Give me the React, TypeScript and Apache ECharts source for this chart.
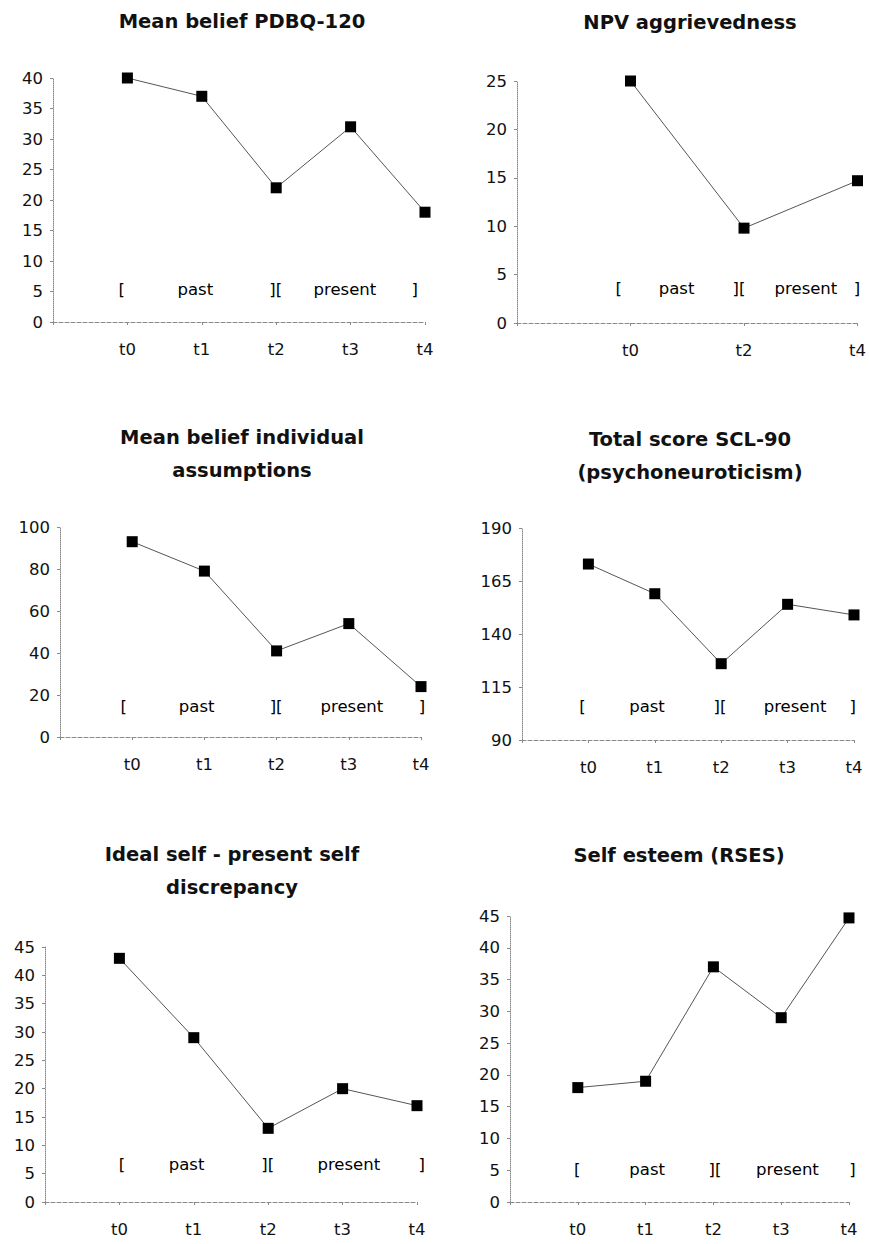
import React, { useEffect, useRef } from 'react';
import * as echarts from 'echarts';

// ---- data ----
const categories = ['t0', 't1', 't2', 't3', 't4'];
const npvCategories = ['t0', 't2', 't4'];

const pdbqValues = [40, 37, 22, 32, 18];
const npvValues = [25, 9.8, 14.7];
const assumptionValues = [93, 79, 41, 54, 24];
const sclValues = [173, 159, 126, 154, 149];
const discrepancyValues = [43, 29, 13, 20, 17];
const rsesValues = [18, 19, 37, 29, 44.7];

const noteLabels = ['[', 'past', '][', 'present', ']'];
// annotation x positions (in category index units) and y value per panel
const pdbqNotesX = [-0.07, 0.92, 2.0, 2.93, 3.87];
const pdbqNoteY = 5.2;
const npvNotesX = [-0.1, 0.41, 0.96, 1.55, 2.0];
const npvNoteY = 3.5;
const assumptionNotesX = [-0.11, 0.9, 2.0, 3.05, 4.02];
const assumptionNoteY = 14.3;
const sclNotesX = [-0.08, 0.89, 1.99, 3.12, 3.99];
const sclNoteY = 105.6;
const discrepancyNotesX = [0.04, 0.91, 2.0, 3.09, 4.07];
const discrepancyNoteY = 6.5;
const rsesNotesX = [0.0, 1.03, 2.03, 3.1, 4.06];
const rsesNoteY = 5.0;

const titles = [
  'Mean belief PDBQ-120',
  'NPV aggrievedness',
  'Mean belief individual\nassumptions',
  'Total score SCL-90\n(psychoneuroticism)',
  'Ideal self - present self\ndiscrepancy',
  'Self esteem (RSES)',
];

const yRanges = [
  [0, 40, 5],
  [0, 25, 5],
  [0, 100, 20],
  [90, 190, 25],
  [0, 45, 5],
  [0, 45, 5],
];

const FONT = 'DejaVu Sans';

export default function App() {
  const ref = useRef<HTMLDivElement>(null);

  useEffect(() => {
    if (!ref.current) return;
    const chart = echarts.init(ref.current, null, { renderer: 'svg' });

    const panels = [
      { cats: categories, values: pdbqValues, notesX: pdbqNotesX, noteY: pdbqNoteY,
        grid: { left: 53, top: 78, width: 372, height: 244 }, tx: 242, ty: 21 },
      { cats: npvCategories, values: npvValues, notesX: npvNotesX, noteY: npvNoteY,
        grid: { left: 517, top: 81, width: 344, height: 242 }, tx: 690, ty: 22 },
      { cats: categories, values: assumptionValues, notesX: assumptionNotesX, noteY: assumptionNoteY,
        grid: { left: 60, top: 527, width: 361, height: 210 }, tx: 242, ty: 454 },
      { cats: categories, values: sclValues, notesX: sclNotesX, noteY: sclNoteY,
        grid: { left: 522, top: 528, width: 332, height: 212 }, tx: 690, ty: 456 },
      { cats: categories, values: discrepancyValues, notesX: discrepancyNotesX, noteY: discrepancyNoteY,
        grid: { left: 45, top: 947, width: 372, height: 255 }, tx: 232, ty: 871 },
      { cats: categories, values: rsesValues, notesX: rsesNotesX, noteY: rsesNoteY,
        grid: { left: 510, top: 916, width: 339, height: 286 }, tx: 679, ty: 855 },
    ];

    const grids: any[] = [];
    const xAxes: any[] = [];
    const yAxes: any[] = [];
    const series: any[] = [];
    const graphics: any[] = [];

    panels.forEach((p, i) => {
      grids.push({ ...p.grid, containLabel: false });
      const cats = p.cats;
      xAxes.push({
        type: 'value',
        gridIndex: i,
        min: -1,
        max: cats.length - 1,
        interval: 1,
        splitLine: { show: false },
        axisLine: { show: true, onZero: false, lineStyle: { color: '#8a8a8a', width: 1, type: 'dashed' } },
        axisTick: { show: true, length: 3, lineStyle: { color: '#8a8a8a' } },
        axisLabel: {
          margin: 19,
          color: '#111',
          fontSize: 16.5,
          fontFamily: FONT,
          formatter: (v: number) => {
            const k = Math.round(v);
            return k >= 0 && k < cats.length ? cats[k] : '';
          },
        },
      });
      const [ymin, ymax, yint] = yRanges[i];
      yAxes.push({
        type: 'value',
        gridIndex: i,
        min: ymin,
        max: ymax,
        interval: yint,
        splitLine: { show: false },
        axisLine: { show: true, onZero: false, lineStyle: { color: '#8a8a8a', width: 1, type: 'dotted' } },
        axisTick: { show: true, length: 3, lineStyle: { color: '#8a8a8a' } },
        axisLabel: { margin: 10, color: '#111', fontSize: 16.5, fontFamily: FONT },
      });
      series.push({
        type: 'scatter',
        xAxisIndex: i,
        yAxisIndex: i,
        silent: true,
        clip: false,
        symbolSize: 1,
        itemStyle: { color: 'rgba(255,255,255,0)', opacity: 1 },
        z: 1,
        label: {
          show: true,
          position: [0, 0],
          align: 'center',
          verticalAlign: 'middle',
          color: '#000',
          opacity: 1,
          fontSize: 16.5,
          fontFamily: FONT,
          formatter: (q: any) => q.name,
        },
        data: noteLabels.map((t, k) => ({ name: t, value: [p.notesX[k], p.noteY] })),
      });
      series.push({
        type: 'line',
        xAxisIndex: i,
        yAxisIndex: i,
        symbol: 'rect',
        symbolSize: 11,
        z: 3,
        lineStyle: { color: '#555', width: 1 },
        itemStyle: { color: '#000' },
        data: p.values.map((v, k) => [k, v]),
      });
      graphics.push({
        type: 'text',
        x: p.tx,
        y: p.ty,
        style: {
          text: titles[i],
          align: 'center',
          verticalAlign: 'middle',
          fontFamily: FONT,
          fontWeight: 'bold',
          fontSize: 19.5,
          lineHeight: 33,
          fill: '#111',
        },
      });
    });

    chart.setOption({
      animation: false,
      backgroundColor: '#fff',
      grid: grids,
      xAxis: xAxes,
      yAxis: yAxes,
      series,
      graphic: graphics,
    });

    return () => chart.dispose();
  }, []);

  return (
    <div
      ref={ref}
      style={{ position: 'absolute', left: 0, top: 0, width: 869, height: 1244, background: '#fff' }}
    />
  );
}
